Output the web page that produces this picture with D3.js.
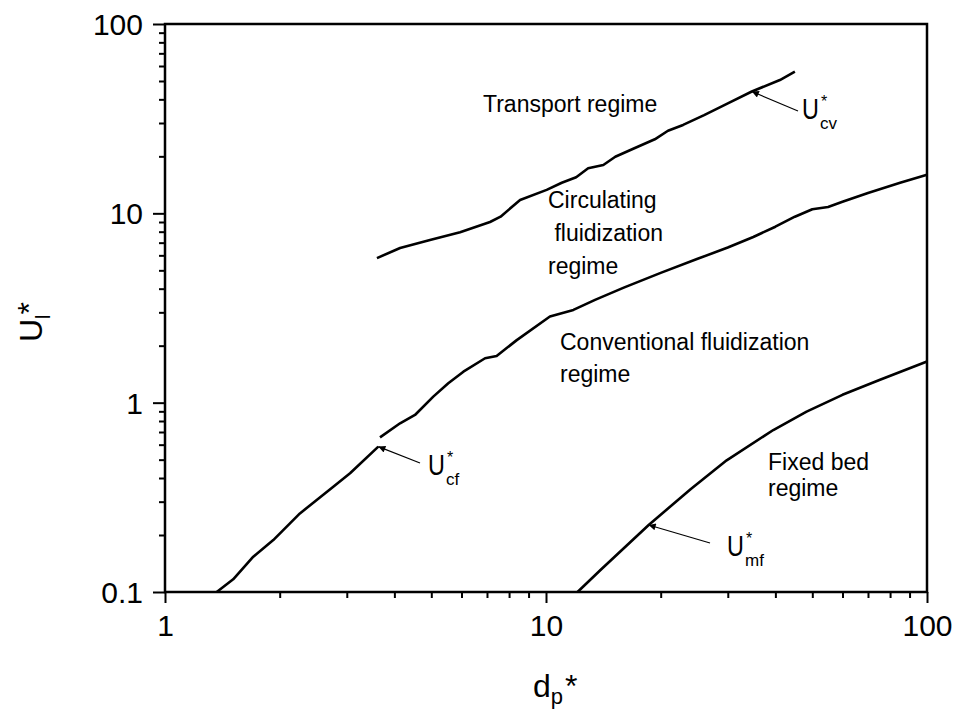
<!DOCTYPE html>
<html>
<head>
<meta charset="utf-8">
<script src="https://cdn.jsdelivr.net/npm/d3@7/dist/d3.min.js"></script>
<style>
    html, body { margin: 0; padding: 0; background: #fff; }
    svg text { font-family: Arial, "Liberation Sans", sans-serif; fill: #000; }
</style>
</head>
<body>
<div id="chart"></div>
<script>
/*
 * Flow regime map, d_p* vs U*
 * values
 */

// U*cv : transport boundary
var dpCv = [3.6, 4.14, 4.96, 5.95, 7.13, 7.6, 8.55, 10.04, 11.0, 12.0, 12.9, 14.14, 15.2, 17.0, 19.3, 20.9, 22.9, 26.0, 30.1, 34.7, 41.1, 45.0];
var uCv = [5.8, 6.56, 7.23, 7.95, 9.0, 9.6, 11.77, 13.3, 14.5, 15.5, 17.3, 18.0, 19.9, 22.0, 24.6, 27.3, 29.3, 33.0, 38.2, 44.0, 50.6, 56.0];

// U*cf : lower part (below the gap) and upper part
var dpCfLow = [1.367, 1.51, 1.705, 1.924, 2.26, 2.765, 3.06, 3.63];
var uCfLow = [0.1, 0.1167, 0.1536, 0.188, 0.26, 0.36, 0.424, 0.586];

var dpCfHigh = [3.667, 4.14, 4.53, 5.06, 5.54, 6.07, 6.92, 7.42, 8.38, 10.24, 11.8, 13.45, 16.0, 20.0, 25.0, 30.0, 35.0, 40.0, 45.0, 50.0, 55.0, 60.0, 70.0, 85.0, 100.0];
var uCfHigh = [0.656, 0.778, 0.861, 1.076, 1.266, 1.458, 1.716, 1.765, 2.14, 2.85, 3.09, 3.49, 4.05, 4.85, 5.75, 6.6, 7.5, 8.5, 9.6, 10.5, 10.8, 11.5, 12.8, 14.5, 16.0];

// U*mf : minimum fluidization
var dpMf = [12.1, 13.9, 18.6, 24.0, 29.8, 39.5, 48.3, 60.0, 75.0, 100.0];
var uMf = [0.1, 0.1306, 0.226, 0.35, 0.496, 0.717, 0.897, 1.1, 1.318, 1.65];

var xTickValues = [1, 10, 100];
var yTickValues = [0.1, 1, 10, 100];
var xTickLabels = ['1', '10', '100'];
var yTickLabels = ['0.1', '1', '10', '100'];

var regimeLabels = [
    ['Transport regime'],
    ['Circulating', ' fluidization', 'regime'],
    ['Conventional fluidization', 'regime'],
    ['Fixed bed', 'regime']
];


var width = 961,
    height = 717,
    margin = {top: 24, right: 34, bottom: 125, left: 165},
    plotW = width - margin.left - margin.right,
    plotH = height - margin.top - margin.bottom;

var svg = d3.select('#chart')
    .append('svg')
    .attr('width', width)
    .attr('height', height);

var g = svg.append('g')
    .attr('transform', 'translate(' + margin.left + ',' + margin.top + ')');

var x = d3.scaleLog().domain([1, 100]).range([0, plotW]);
var y = d3.scaleLog().domain([0.1, 100]).range([plotH, 0]);


/*
 * Ticks: majors with labels, minors 2..9 per decade
 * */
function minorTicks(lo, hi) {
    var out = [];
    for (var d = lo; d < hi; d *= 10) {
        for (var k = 2; k < 10; k++) out.push(d * k);
    }
    return out;
}

var xAxisMinor = d3.axisBottom(x).tickValues(minorTicks(1, 100)).tickSize(6).tickFormat('');
var xAxisMajor = d3.axisBottom(x).tickValues(xTickValues).tickSize(11)
    .tickFormat(function (d, i) { return xTickLabels[i]; });
var yAxisMinor = d3.axisLeft(y).tickValues(minorTicks(0.1, 100)).tickSize(6).tickFormat('');
var yAxisMajor = d3.axisLeft(y).tickValues(yTickValues).tickSize(12)
    .tickFormat(function (d, i) { return yTickLabels[i]; });

function styleAxis(sel) {
    sel.select('.domain').remove();
    sel.selectAll('line').attr('stroke', '#000').attr('stroke-width', 2);
    sel.selectAll('text').attr('font-size', 30).attr('fill', '#000')
        .attr('font-family', 'Arial, "Liberation Sans", sans-serif');
}

g.append('g').attr('transform', 'translate(0,' + plotH + ')').call(xAxisMinor).call(styleAxis);
g.append('g').attr('transform', 'translate(0,' + plotH + ')').call(xAxisMajor).call(styleAxis)
    .selectAll('text').attr('dy', '0.72em').attr('y', 22);
g.append('g').call(yAxisMinor).call(styleAxis);
g.append('g').call(yAxisMajor).call(styleAxis)
    .selectAll('text').attr('x', -22).attr('dy', '0.35em');

// frame
g.append('rect')
    .attr('width', plotW)
    .attr('height', plotH)
    .attr('fill', 'none')
    .attr('stroke', '#000')
    .attr('stroke-width', 2.5);


/*
 * Curves
 * */
var line = d3.line()
    .x(function (d) { return x(d[0]); })
    .y(function (d) { return y(d[1]); });

function drawCurve(xs, ys) {
    g.append('path')
        .datum(d3.zip(xs, ys))
        .attr('d', line)
        .attr('fill', 'none')
        .attr('stroke', '#000')
        .attr('stroke-width', 2.6)
        .attr('stroke-linejoin', 'round');
}

drawCurve(dpCv, uCv);
drawCurve(dpCfLow, uCfLow);
drawCurve(dpCfHigh, uCfHigh);
drawCurve(dpMf, uMf);


/*
 * Arrows + U* labels
 * */
svg.append('defs').append('marker')
    .attr('id', 'head')
    .attr('viewBox', '0 0 10 10')
    .attr('refX', 10)
    .attr('refY', 5)
    .attr('markerWidth', 10)
    .attr('markerHeight', 7)
    .attr('markerUnits', 'userSpaceOnUse')
    .attr('orient', 'auto')
    .append('path')
    .attr('d', 'M0,0 L10,5 L0,10 Z')
    .attr('fill', '#000');

function arrow(x1, y1, px, py) {
    g.append('line')
        .attr('x1', x1 - margin.left).attr('y1', y1 - margin.top)
        .attr('x2', x(px)).attr('y2', y(py))
        .attr('stroke', '#000')
        .attr('stroke-width', 1.2)
        .attr('marker-end', 'url(#head)');
}

function uLabel(px, py, sub) {
    var t = svg.append('g').attr('transform', 'translate(' + px + ',' + py + ')');
    t.append('text').attr('font-size', 30).attr('transform', 'scale(0.78,1)').text('U');
    t.append('text').attr('x', 18).attr('y', 10).attr('font-size', 17).text(sub);
    t.append('text').attr('x', 19).attr('y', -12).attr('font-size', 16).text('*');
}

arrow(420, 463, dpCfLow[dpCfLow.length - 1], uCfLow[uCfLow.length - 1]);
uLabel(428, 475, 'cf');

arrow(710, 543, 18.6, 0.226);
uLabel(727, 556, 'mf');

arrow(798, 111, 34.7, 44.0);
uLabel(802, 119, 'cv');


/*
 * Regime texts
 * */
function block(lines, px, py, lh) {
    var t = svg.append('text').attr('font-size', 23).attr('xml:space', 'preserve');
    lines.forEach(function (s, i) {
        t.append('tspan').attr('x', px).attr('y', py + i * lh).text(s);
    });
}

block(regimeLabels[0], 483, 112, 28);
block(regimeLabels[1], 548, 208, 33);
block(regimeLabels[2], 560, 350, 32);
block(regimeLabels[3], 768, 470, 26);


/*
 * Axis titles
 * */
var xt = svg.append('text').attr('x', 533).attr('y', 697).attr('font-size', 32);
xt.append('tspan').text('d');
xt.append('tspan').attr('font-size', 22).attr('dy', 7).text('p');
xt.append('tspan').attr('dy', -7).attr('dx', 2).text('*');

var yt = svg.append('text').attr('transform', 'translate(42,342) rotate(-90)').attr('font-size', 32);
yt.append('tspan').text('U');
yt.append('tspan').attr('font-size', 20).attr('dy', 8).text('l');
yt.append('tspan').attr('dy', -10).text('*');
</script>
</body>
</html>
